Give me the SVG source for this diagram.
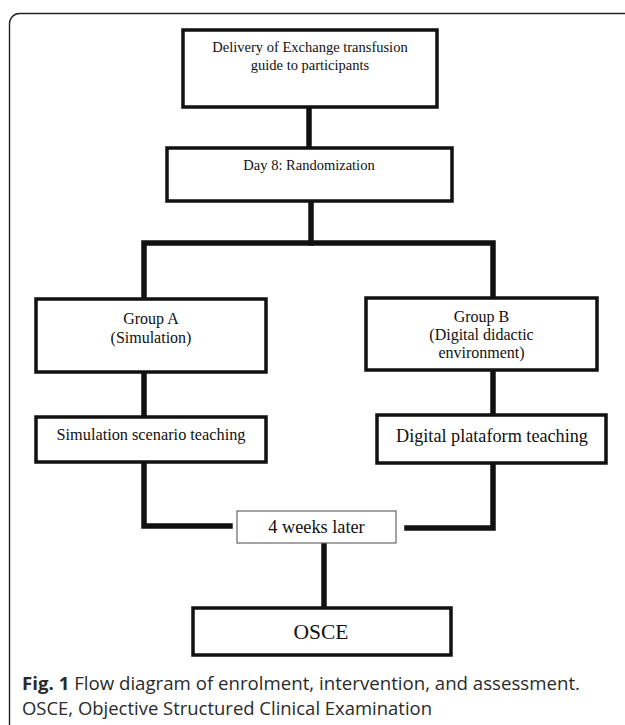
<svg xmlns="http://www.w3.org/2000/svg" width="625" height="725" viewBox="0 0 625 725">
<style>
.box{fill:#fff;stroke:#111;stroke-width:3.5}
.thin{fill:#fff;stroke:#666;stroke-width:1.2}
.t{font-family:"Liberation Serif","Times New Roman",serif;fill:#111;text-anchor:middle}
.ln{fill:none;stroke:#111;stroke-width:5.5;stroke-linecap:square}
.cap{font-family:"Open Sans","Noto Sans",sans-serif;font-size:18.5px;fill:#2a2a2a}
</style>
<rect width="625" height="725" fill="#fff"/>
<path d="M9.5,725 V23.5 A10,10 0 0 1 19.5,13.5 H625" fill="none" stroke="#222" stroke-width="1.4"/>
<g id="connectors">
<path class="ln" d="M309,107 V148"/>
<path class="ln" d="M311,201 V243"/>
<path class="ln" d="M144,299 V243 H493 V298"/>
<path class="ln" d="M144,372 V417"/>
<path class="ln" d="M493,370 V415"/>
<path class="ln" d="M144,462 V526 H230"/>
<path class="ln" d="M493,463 V528 H407"/>
<path class="ln" d="M324,543 V607"/>
</g>
<g id="delivery">
<rect class="box" x="183" y="30" width="254" height="77"/>
<text class="t" font-size="14.5" x="310" y="52">Delivery of Exchange transfusion</text>
<text class="t" font-size="14.5" x="310" y="70">guide to participants</text>
</g>
<g id="randomization">
<rect class="box" x="167" y="148" width="285" height="53"/>
<text class="t" font-size="14.5" x="309" y="170">Day 8: Randomization</text>
</g>
<g id="groupA">
<rect class="box" x="36" y="299" width="230" height="73"/>
<text class="t" font-size="16" x="151" y="324">Group A</text>
<text class="t" font-size="16" x="151" y="343">(Simulation)</text>
</g>
<g id="groupB">
<rect class="box" x="366" y="298" width="231" height="72"/>
<text class="t" font-size="16" x="481.5" y="322">Group B</text>
<text class="t" font-size="16" x="481.5" y="340">(Digital didactic</text>
<text class="t" font-size="16" x="481.5" y="358">environment)</text>
</g>
<g id="simTeaching">
<rect class="box" x="36" y="417" width="230" height="45"/>
<text class="t" font-size="16.3" x="151" y="440">Simulation scenario teaching</text>
</g>
<g id="digitalTeaching">
<rect class="box" x="377" y="415" width="229" height="48"/>
<text class="t" font-size="18.2" x="492" y="442">Digital plataform teaching</text>
</g>
<g id="weeksLater">
<rect class="thin" x="237" y="511" width="159" height="32"/>
<text class="t" font-size="18.3" x="316.5" y="533">4 weeks later</text>
</g>
<g id="osce">
<rect class="box" x="193" y="608" width="258" height="47"/>
<text class="t" font-size="21.5" x="321" y="639">OSCE</text>
</g>
<text class="cap" x="22" y="690" textLength="558" lengthAdjust="spacingAndGlyphs"><tspan font-weight="bold">Fig. 1</tspan> Flow diagram of enrolment, intervention, and assessment.</text>
<text class="cap" x="22" y="715" textLength="410" lengthAdjust="spacingAndGlyphs">OSCE, Objective Structured Clinical Examination</text>
</svg>
